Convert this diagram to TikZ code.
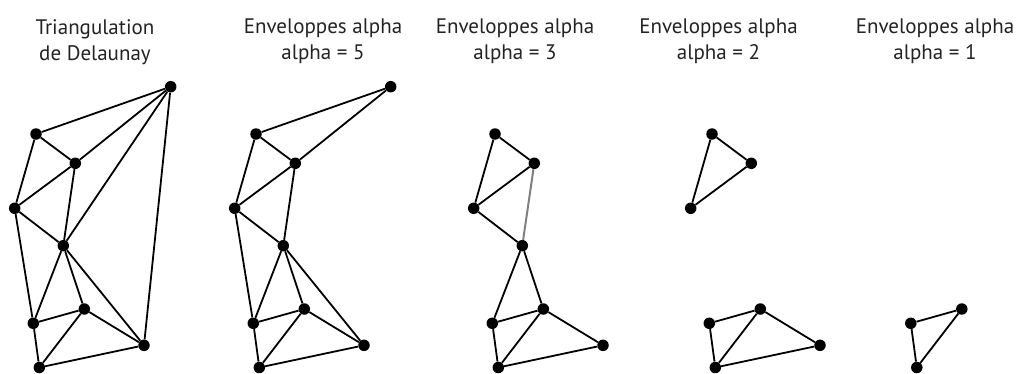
\documentclass[tikz,border=0pt]{standalone}
\usepackage{fontspec}
\setmainfont{PT Sans}
\definecolor{mytext}{RGB}{35,35,35}
\tikzset{
  dot/.style={circle, fill=black, inner sep=0pt, minimum size=11.5pt},
  edge/.style={line width=1.8pt, color=black},
  faint/.style={line width=2pt, color=black!50},
  title/.style={align=center, inner sep=0pt, anchor=north,
    font=\fontsize{21}{26}\selectfont, text=mytext}
}

\begin{document}
\begin{tikzpicture}[x=1pt, y=-1pt]
  \useasboundingbox (0,0) rectangle (1021,373);

  % Titles
  \node[title] (t1) at (95,19)    {Triangulation\\de Delaunay};
  \node[title] (t2) at (323,19)   {Enveloppes alpha\\alpha = 5};
  \node[title] (t3) at (515,19)   {Enveloppes alpha\\alpha = 3};
  \node[title] (t4) at (718.5,19) {Enveloppes alpha\\alpha = 2};
  \node[title] (t5) at (935,19)   {Enveloppes alpha\\alpha = 1};

  % Delaunay triangulation
  \begin{scope}
    \foreach \n/\x/\y in {a/170.7/86.7, b/36/134, c/75.3/163.3, d/14.7/208.3, e/63.3/245.7,
                          f/84.3/309, g/33.3/323.3, h/144/345.3, i/39.3/367.5}
      \node[dot] (p1\n) at (\x,\y) {};
    \foreach \u/\v in {a/b, a/c, a/e, a/h, b/c, b/d, c/d, c/e, d/e, d/g,
                       e/g, e/f, e/h, f/g, f/i, f/h, g/i, i/h}
      \draw[edge] (p1\u) -- (p1\v);
  \end{scope}

  % alpha = 5
  \begin{scope}[xshift=220pt]
    \foreach \n/\x/\y in {a/170.7/86.7, b/36/134, c/75.3/163.3, d/14.7/208.3, e/63.3/245.7,
                          f/84.3/309, g/33.3/323.3, h/144/345.3, i/39.3/367.5}
      \node[dot] (p2\n) at (\x,\y) {};
    \foreach \u/\v in {a/b, a/c, b/c, b/d, c/d, c/e, d/e, d/g,
                       e/g, e/f, e/h, f/g, f/i, f/h, g/i, i/h}
      \draw[edge] (p2\u) -- (p2\v);
  \end{scope}

  % alpha = 3
  \begin{scope}[xshift=459pt]
    \foreach \n/\x/\y in {b/36/134, c/75.3/163.3, d/14.7/208.3, e/63.3/245.7,
                          f/84.3/309, g/33.3/323.3, h/144/345.3, i/39.3/367.5}
      \node[dot] (p3\n) at (\x,\y) {};
    \foreach \u/\v in {b/c, b/d, c/d, d/e, e/g, e/f, f/g, f/i, f/h, g/i, i/h}
      \draw[edge] (p3\u) -- (p3\v);
    \draw[faint] (p3c) -- (p3e);
  \end{scope}

  % alpha = 2
  \begin{scope}[xshift=676pt]
    \foreach \n/\x/\y in {b/36/134, c/75.3/163.3, d/14.7/208.3,
                          f/84.3/309, g/33.3/323.3, h/144/345.3, i/39.3/367.5}
      \node[dot] (p4\n) at (\x,\y) {};
    \foreach \u/\v in {b/c, b/d, c/d, f/g, f/i, f/h, g/i, i/h}
      \draw[edge] (p4\u) -- (p4\v);
  \end{scope}

  % alpha = 1
  \begin{scope}[xshift=877.5pt]
    \foreach \n/\x/\y in {f/84.3/309, g/33.3/323.3, i/39.3/367.5}
      \node[dot] (p5\n) at (\x,\y) {};
    \foreach \u/\v in {f/g, f/i, g/i}
      \draw[edge] (p5\u) -- (p5\v);
  \end{scope}
\end{tikzpicture}
\end{document}
